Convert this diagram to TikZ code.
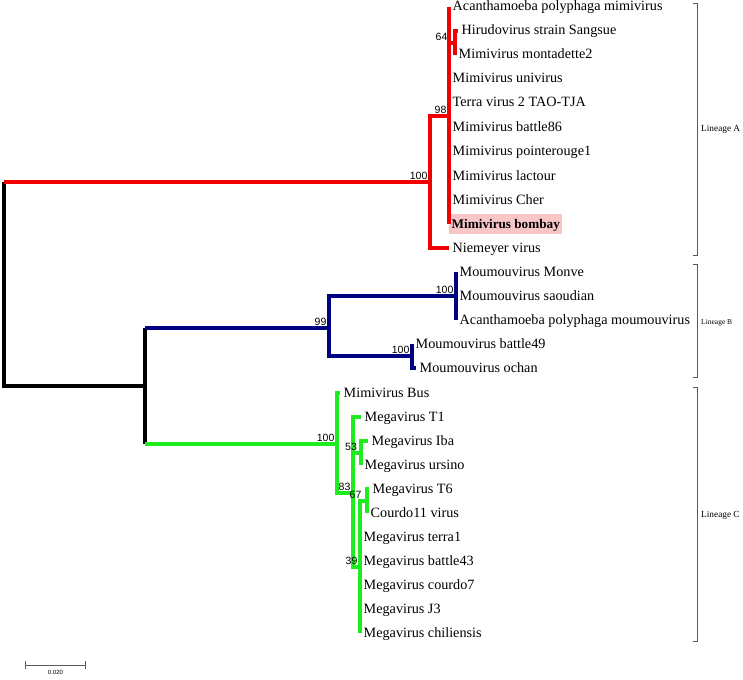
\documentclass[tikz,border=0pt]{standalone}
\usepackage{fontspec}
\setmainfont{Liberation Serif}
\setsansfont{Liberation Sans}
\usetikzlibrary{arrows, positioning}

\definecolor{lineA}{RGB}{240,0,0}
\definecolor{lineB}{RGB}{0,0,130}
\definecolor{lineC}{RGB}{30,236,30}
\definecolor{hlpink}{RGB}{248,198,198}
\definecolor{brgray}{RGB}{90,90,90}

\tikzset{
  leaf/.style={anchor=west, inner xsep=3.5pt, inner ysep=0pt, text height=10pt, text depth=2pt,
    font=\fontsize{14.2}{16}\selectfont},
  highlight/.style={fill=hlpink, inner xsep=2.5pt, inner ysep=4pt, font=\fontsize{13.2}{16}\selectfont\bfseries},
  branch/.style={draw=#1, line width=3.2pt, to path={(\tikztostart) |- (\tikztotarget)}},
  spine/.style={draw=black, line width=3.2pt},
  boot/.style={anchor=south east, inner sep=2.4pt, font=\sffamily\fontsize{10.5}{12}\selectfont},
  bracket/.style={draw=brgray, line width=0.8pt},
  lineage/.style={anchor=west, inner sep=0pt, font=\fontsize{9.3}{11}\selectfont}
}

\begin{document}
\begin{tikzpicture}[x=1pt, y=-1pt]
        \useasboundingbox (0,0) rectangle (743,679);
        % leaves
        \begin{scope}[every node/.style={leaf}]
          \node (a1) at (449,7) {Acanthamoeba polyphaga mimivirus};
          \node (a2) at (458,31) {Hirudovirus strain Sangsue};
          \node (a3) at (455,55) {Mimivirus montadette2};
          \node (a4) at (449,79) {Mimivirus univirus};
          \node (a5) at (449,103) {Terra virus 2 TAO-TJA};
          \node (a6) at (449,128) {Mimivirus battle86};
          \node (a7) at (449,152) {Mimivirus pointerouge1};
          \node (a8) at (449,176) {Mimivirus lactour};
          \node (a9) at (449,200) {Mimivirus Cher};
          \node[highlight] (a10) at (449,224) {Mimivirus bombay};
          \node (a11) at (449,248) {Niemeyer virus};
          \node (b1) at (456,272) {Moumouvirus Monve};
          \node (b2) at (456,296) {Moumouvirus saoudian};
          \node (b3) at (456,320) {Acanthamoeba polyphaga moumouvirus};
          \node (b4) at (412,344) {Moumouvirus battle49};
          \node (b5) at (416,368) {Moumouvirus ochan};
          \node (c1) at (340,393) {Mimivirus Bus};
          \node (c2) at (361,417) {Megavirus T1};
          \node (c3) at (368,441) {Megavirus Iba};
          \node (c4) at (361,465) {Megavirus ursino};
          \node (c5) at (369,489) {Megavirus T6};
          \node (c6) at (367,513) {Courdo11 virus};
          \node (c7) at (360,537) {Megavirus terra1};
          \node (c8) at (360,561) {Megavirus battle43};
          \node (c9) at (360,585) {Megavirus courdo7};
          \node (c10) at (360,609) {Megavirus J3};
          \node (c11) at (360,633) {Megavirus chiliensis};
        \end{scope}
        % inner nodes
        \coordinate (root) at (4,284);
        \coordinate (nA) at (430,182);
        \coordinate (nA1) at (449,116);
        \coordinate (nA2) at (455,43);
        \coordinate (nBC) at (145,386);
        \coordinate (nB) at (329,328);
        \coordinate (nB1) at (456,296);
        \coordinate (nB2) at (412,356);
        \coordinate (nC) at (337,444);
        \coordinate (nC1) at (353,493);
        \coordinate (nC2) at (361,453);
        \coordinate (nC3) at (360,567);
        \coordinate (nC4) at (367,501);
        % backbone
        \draw[spine] (nA -| root) -- (nBC -| root) -- (nBC);
        \draw[spine] (nB -| nBC) -- (nC -| nBC);
        \begin{scope}[every edge/.style={branch=lineA}]
          \draw[branch=lineA] (nA -| root) -- (nA);
          \path (nA) edge (nA1);
          \path (nA) edge (a11);
          \path (nA1) edge (a1);
          \path (nA1) edge (nA2);
          \path (nA2) edge (a2);
          \path (nA2) edge (a3);
          \path (nA1) edge (a4);
          \path (nA1) edge (a5);
          \path (nA1) edge (a6);
          \path (nA1) edge (a7);
          \path (nA1) edge (a8);
          \path (nA1) edge (a9);
          \path (nA1) edge (a10);
        \end{scope}
        \begin{scope}[every edge/.style={branch=lineB}]
          \draw[branch=lineB] (nB -| nBC) -- (nB);
          \path (nB) edge (nB1);
          \path (nB) edge (nB2);
          \path (nB1) edge (b1);
          \path (nB1) edge (b2);
          \path (nB1) edge (b3);
          \path (nB2) edge (b4);
          \path (nB2) edge (b5);
        \end{scope}
        \begin{scope}[every edge/.style={branch=lineC}]
          \draw[branch=lineC] (nC -| nBC) -- (nC);
          \path (nC) edge (c1);
          \path (nC) edge (nC1);
          \path (nC1) edge (c2);
          \path (nC1) edge (nC2);
          \path (nC1) edge (nC3);
          \path (nC2) edge (c3);
          \path (nC2) edge (c4);
          \path (nC3) edge (nC4);
          \path (nC4) edge (c5);
          \path (nC4) edge (c6);
          \path (nC3) edge (c7);
          \path (nC3) edge (c8);
          \path (nC3) edge (c9);
          \path (nC3) edge (c10);
          \path (nC3) edge (c11);
        \end{scope}
        % bootstrap values
        \node[boot] (bA) at (nA) {100};
        \node[boot] (bA1) at (nA1) {98};
        \node[boot, xshift=-5pt] (bA2) at (nA2) {64};
        \node[boot] (bB) at (nB) {99};
        \node[boot] (bB1) at (nB1) {100};
        \node[boot] (bB2) at (nB2) {100};
        \node[boot] (bC) at (nC) {100};
        \node[boot] (bC1) at (nC1) {83};
        \node[boot, xshift=-1.5pt] (bC2) at (nC2) {53};
        \node[boot] (bC3) at (nC3) {39};
        \node[boot, xshift=-3pt] (bC4) at (nC4) {67};
        % lineages
        \draw[bracket] (693,3) -- (697,3) -- (697,255) -- (693,255);
        \draw[bracket] (693,264) -- (697,264) -- (697,377) -- (693,377);
        \draw[bracket] (693,387) -- (697,387) -- (697,641) -- (693,641);
        \node[lineage] (linA) at (701,129) {Lineage A};
        \node[lineage, font=\fontsize{7.5}{9}\selectfont] (linB) at (701,323) {Lineage B};
        \node[lineage] (linC) at (701,515) {Lineage C};
        % scale bar
        \coordinate (s1) at (25,665);
        \coordinate (s2) at (86,665);
        \coordinate (smid) at (55.5,665);
        \draw[brgray, line width=0.8pt, |-|] (s1) -- (s2);
        \node[font=\sffamily\fontsize{6}{7}\selectfont, below=1.5pt of smid] (sbar) {0.020};
\end{tikzpicture}
\end{document}
